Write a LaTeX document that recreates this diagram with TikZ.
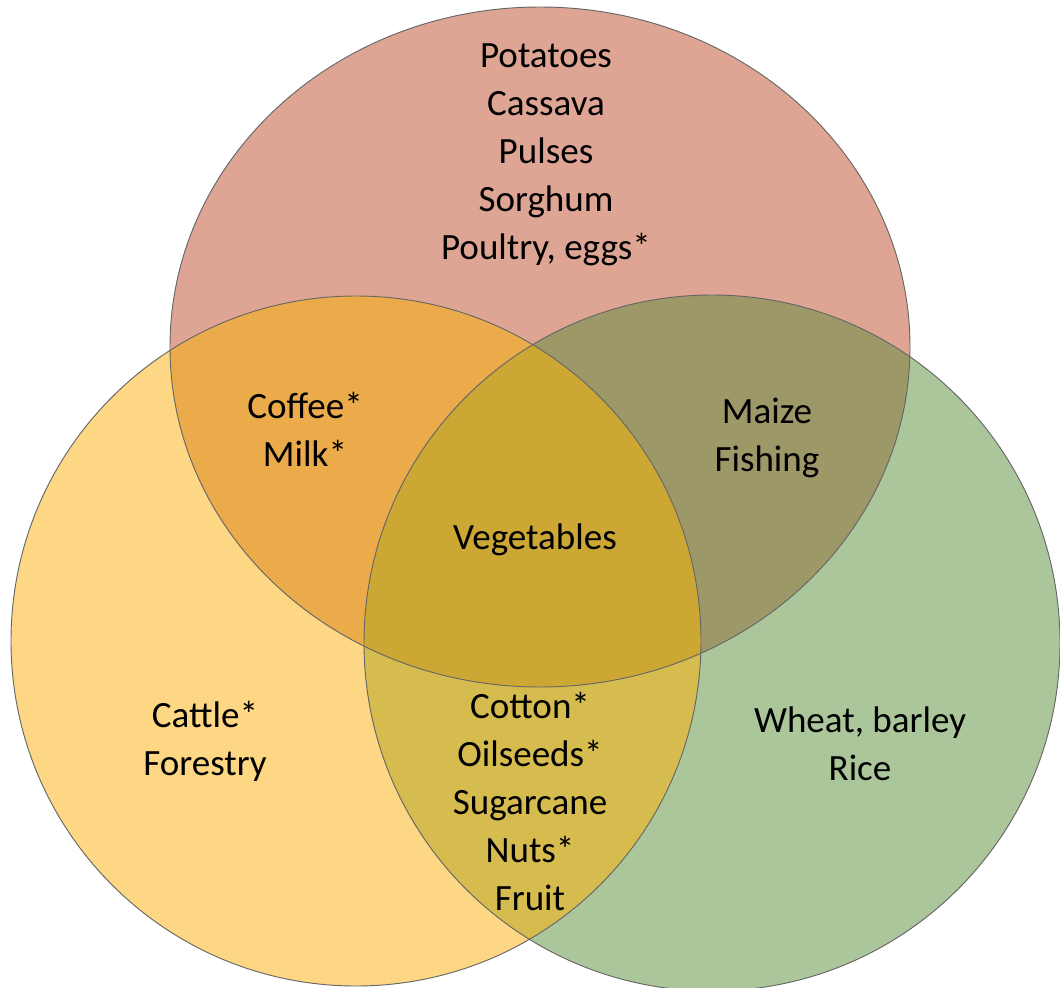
\documentclass[tikz,border=0pt]{standalone}
\usepackage{fontspec}
\setmainfont{Carlito}
\definecolor{toppink}{HTML}{DFA594}
\definecolor{leftyellow}{HTML}{FDD783}
\definecolor{rightgreen}{HTML}{ACC69C}
\definecolor{topleft}{HTML}{ECAB4B}
\definecolor{topright}{HTML}{9C9868}
\definecolor{leftright}{HTML}{D6BC4F}
\definecolor{allthree}{HTML}{CDA734}
\tikzset{
  crop/.style={font=\fontsize{27.8}{36}\selectfont, align=center, inner sep=0pt},
  rim/.style={draw=black!60, line width=0.7pt}
}
\begin{document}
\begin{tikzpicture}[x=0.75pt, y=-0.75pt]
    \useasboundingbox (0,0) rectangle (1060,988);
    \fill[toppink] (540,347) ellipse (370 and 340);
    \fill[leftyellow] (356,641) circle (345);
    \fill[rightgreen] (712,643) circle (348);
    \begin{scope}
      \clip (540,347) ellipse (370 and 340);
      \fill[topleft] (356,641) circle (345);
      \fill[topright] (712,643) circle (348);
    \end{scope}
    \begin{scope}
      \clip (356,641) circle (345);
      \fill[leftright] (712,643) circle (348);
      \clip (540,347) ellipse (370 and 340);
      \fill[allthree] (712,643) circle (348);
    \end{scope}
    \draw[rim] (540,347) ellipse (370 and 340);
    \draw[rim] (356,641) circle (345);
    \draw[rim] (712,643) circle (348);

    \node[crop] (toponly) at (546,155) {Potatoes\\Cassava\\Pulses\\Sorghum\\Poultry, eggs*};
    \node[crop] (coffee) at (305,429) {Coffee*\\Milk*};
    \node[crop] (maize) at (767,438) {Maize\\Fishing};
    \node[crop] (veg) at (535,540) {Vegetables};
    \node[crop] (cattle) at (205,741) {Cattle*\\Forestry};
    \node[crop] (cotton) at (530,801) {Cotton*\\Oilseeds*\\Sugarcane\\Nuts*\\Fruit};
    \node[crop] (wheat) at (860,744) {Wheat, barley\\Rice};
  \end{tikzpicture}
\end{document}
